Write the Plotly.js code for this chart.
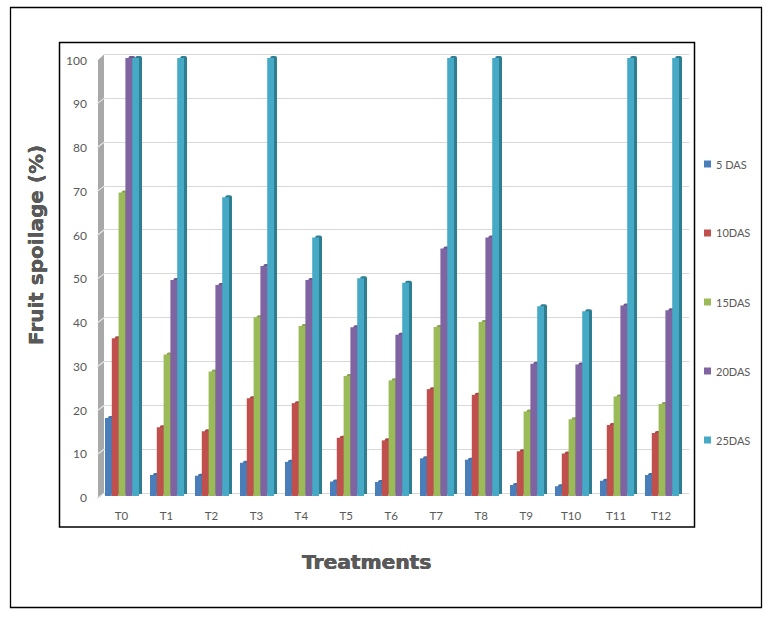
<!DOCTYPE html>
<html>
<head>
<meta charset="utf-8">
<script src="https://cdn.plot.ly/plotly-3.0.1.min.js"></script>
<style>html,body{margin:0;padding:0;background:#fff}#c{width:775px;height:617px}</style>
</head>
<body>
<div id="c"></div>
<script>
const categories = ["T0","T1","T2","T3","T4","T5","T6","T7","T8","T9","T10","T11","T12"];
const seriesNames = ["5 DAS","10DAS","15DAS","20DAS","25DAS"];
const das5  = [17.8,4.8,4.6,7.6,7.8,3.3,3.2,8.6,8.3,2.5,2.2,3.5,4.8];
const das10 = [36,15.7,14.8,22.3,21.2,13.3,12.7,24.4,23.1,10.2,9.7,16.2,14.4];
const das15 = [69.3,32.3,28.4,40.8,38.8,27.4,26.4,38.6,39.7,19.3,17.5,22.7,21];
const das20 = [100,49.3,48.2,52.5,49.3,38.5,36.8,56.5,59,30.2,30,43.5,42.4];
const das25 = [100,100,68.2,100,59,49.7,48.7,100,100,43.3,42.2,100,100];
const seriesValues = [das5,das10,das15,das20,das25];
const frontColors = ["#4a7ebb","#c0504d","#9bbb59","#8064a2","#46a9c6"];
const sideColors  = ["#3f6fa6","#a84542","#85a44c","#6d5590","#2f7d90"];
const legendY = [164,233,302,371,440];

const W=775,H=617,L=99,R=689,T=50,B=500,PW=R-L,PH=B-T;
const px=x=>(x-L)/PW, py=y=>(B-y)/PH;
const dom=(a,b)=>[(a-L)/PW,(b-L)/PW];
const yr=(zero,pitch)=>[-(B-zero)/pitch,(zero-T)/pitch];
const wallZero=493.2,wallPitch=4.387;

const traces=[];
traces.push({type:'bar',x:categories,y:categories.map(()=>null),xaxis:'x',yaxis:'y',showlegend:false,hoverinfo:'skip'});
seriesValues.forEach((v,i)=>traces.push({type:'bar',name:seriesNames[i],x:categories,y:v,xaxis:'x2',yaxis:'y2',
  marker:{color:sideColors[i],cornerradius:2,line:{width:0}},showlegend:false,hoverinfo:'skip'}));
seriesValues.forEach((v,i)=>traces.push({type:'bar',name:seriesNames[i],x:categories,y:v,xaxis:'x3',yaxis:'y3',
  marker:{color:frontColors[i],line:{width:0}},showlegend:false}));
traces.push({type:'bar',x:categories,y:categories.map(()=>null),xaxis:'x4',yaxis:'y4',showlegend:false,hoverinfo:'skip'});

const shapes=[];
const rect=(x0,y0,x1,y1,line,fill)=>({type:'rect',xref:'paper',yref:'paper',x0:px(x0),x1:px(x1),y0:py(y0),y1:py(y1),line:line,fillcolor:fill||'rgba(0,0,0,0)',layer:'below'});
shapes.push(rect(10.5,7.5,761.5,607.5,{color:'#000',width:1.3}));
shapes.push(rect(59.5,42.5,694.5,527,{color:'#000',width:1.5}));
shapes.push({type:'path',xref:'paper',yref:'paper',layer:'below',fillcolor:'#a8a8a8',line:{width:0},
  path:`M${px(98)},${py(60)}L${px(104)},${py(54.5)}L${px(104)},${py(wallZero)}L${px(98)},${py(498.5)}Z`});
for(let v=0;v<=90;v+=10){
  const yb=wallZero-v*wallPitch;
  shapes.push({type:'line',xref:'paper',yref:'paper',layer:'below',x0:px(97),x1:px(104),y0:py(yb+5.5),y1:py(yb),line:{color:'#e6e6e6',width:1.2}});
}
legendY.forEach((y,i)=>shapes.push({type:'rect',xref:'paper',yref:'paper',x0:px(704),x1:px(711),y0:py(y-3.5),y1:py(y+3.5),fillcolor:frontColors[i],line:{width:0}}));

const annotations=seriesNames.map((n,i)=>({xref:'paper',yref:'paper',x:px(713.5),y:py(legendY[i]),xanchor:'left',yanchor:'middle',showarrow:false,text:n,font:{family:'Lato, sans-serif',size:11,color:'#595959'}}));
const thick='0.5px 0 0 #595959, -0.3px 0 0 #595959';
annotations.push({xref:'paper',yref:'paper',x:px(366.5),y:py(561.5),xanchor:'center',yanchor:'middle',showarrow:false,text:'<b>Treatments</b>',font:{family:'DejaVu Sans, sans-serif',size:20.2,color:'#595959',shadow:thick}});
annotations.push({xref:'paper',yref:'paper',x:px(36),y:py(245),xanchor:'center',yanchor:'middle',textangle:-90,showarrow:false,text:'<b>Fruit spoilage (%)</b>',font:{family:'DejaVu Sans, sans-serif',size:20,color:'#595959',shadow:'0 0.4px 0 #595959, 0 -0.3px 0 #595959'}});

const hidden={showgrid:false,zeroline:false,showticklabels:false,showline:false,ticks:''};
const layout={
  width:W,height:H,showlegend:false,paper_bgcolor:'#fff',plot_bgcolor:'rgba(0,0,0,0)',
  margin:{l:L,r:W-R,t:T,b:H-B,pad:0},
  barmode:'group',bargap:0.244,bargroupgap:0,
  font:{family:'Lato, sans-serif',size:11,color:'#595959'},
  xaxis:Object.assign({},hidden,{domain:dom(104,689),type:'category',range:[-0.5,12.5],anchor:'y'}),
  yaxis:{domain:[0,1],range:yr(wallZero,wallPitch),anchor:'x',showgrid:true,gridcolor:'#d9d9d9',gridwidth:1.4,dtick:10,zeroline:true,zerolinecolor:'#d9d9d9',zerolinewidth:1.4,showticklabels:false,ticks:'',showline:false},
  xaxis2:Object.assign({},hidden,{domain:dom(102.5,687.5),type:'category',range:[-0.5,12.5],anchor:'y2'}),
  yaxis2:Object.assign({},hidden,{domain:[0,1],range:yr(494,4.38),anchor:'x2'}),
  xaxis3:Object.assign({},hidden,{domain:dom(99.5,684.5),type:'category',range:[-0.5,12.5],anchor:'y3'}),
  yaxis3:Object.assign({},hidden,{domain:[0,1],range:yr(496,4.38),anchor:'x3'}),
  xaxis4:{domain:dom(98.5,683.5),type:'category',range:[-0.5,12.5],anchor:'y4',showgrid:false,zeroline:false,showline:false,ticks:'',ticklabelstandoff:7,tickfont:{family:'Lato, sans-serif',size:11.5,color:'#595959'}},
  yaxis4:{domain:[0,1],range:yr(498,4.375),anchor:'x4',tickvals:[0,10,20,30,40,50,60,70,80,90,100],showgrid:false,zeroline:false,showline:false,ticks:'',ticklabelstandoff:11,tickfont:{family:'Lato, sans-serif',size:12,color:'#595959'}},
  shapes:shapes,annotations:annotations
};
Plotly.newPlot('c',traces,layout,{displayModeBar:false,responsive:false});
</script>
</body>
</html>
